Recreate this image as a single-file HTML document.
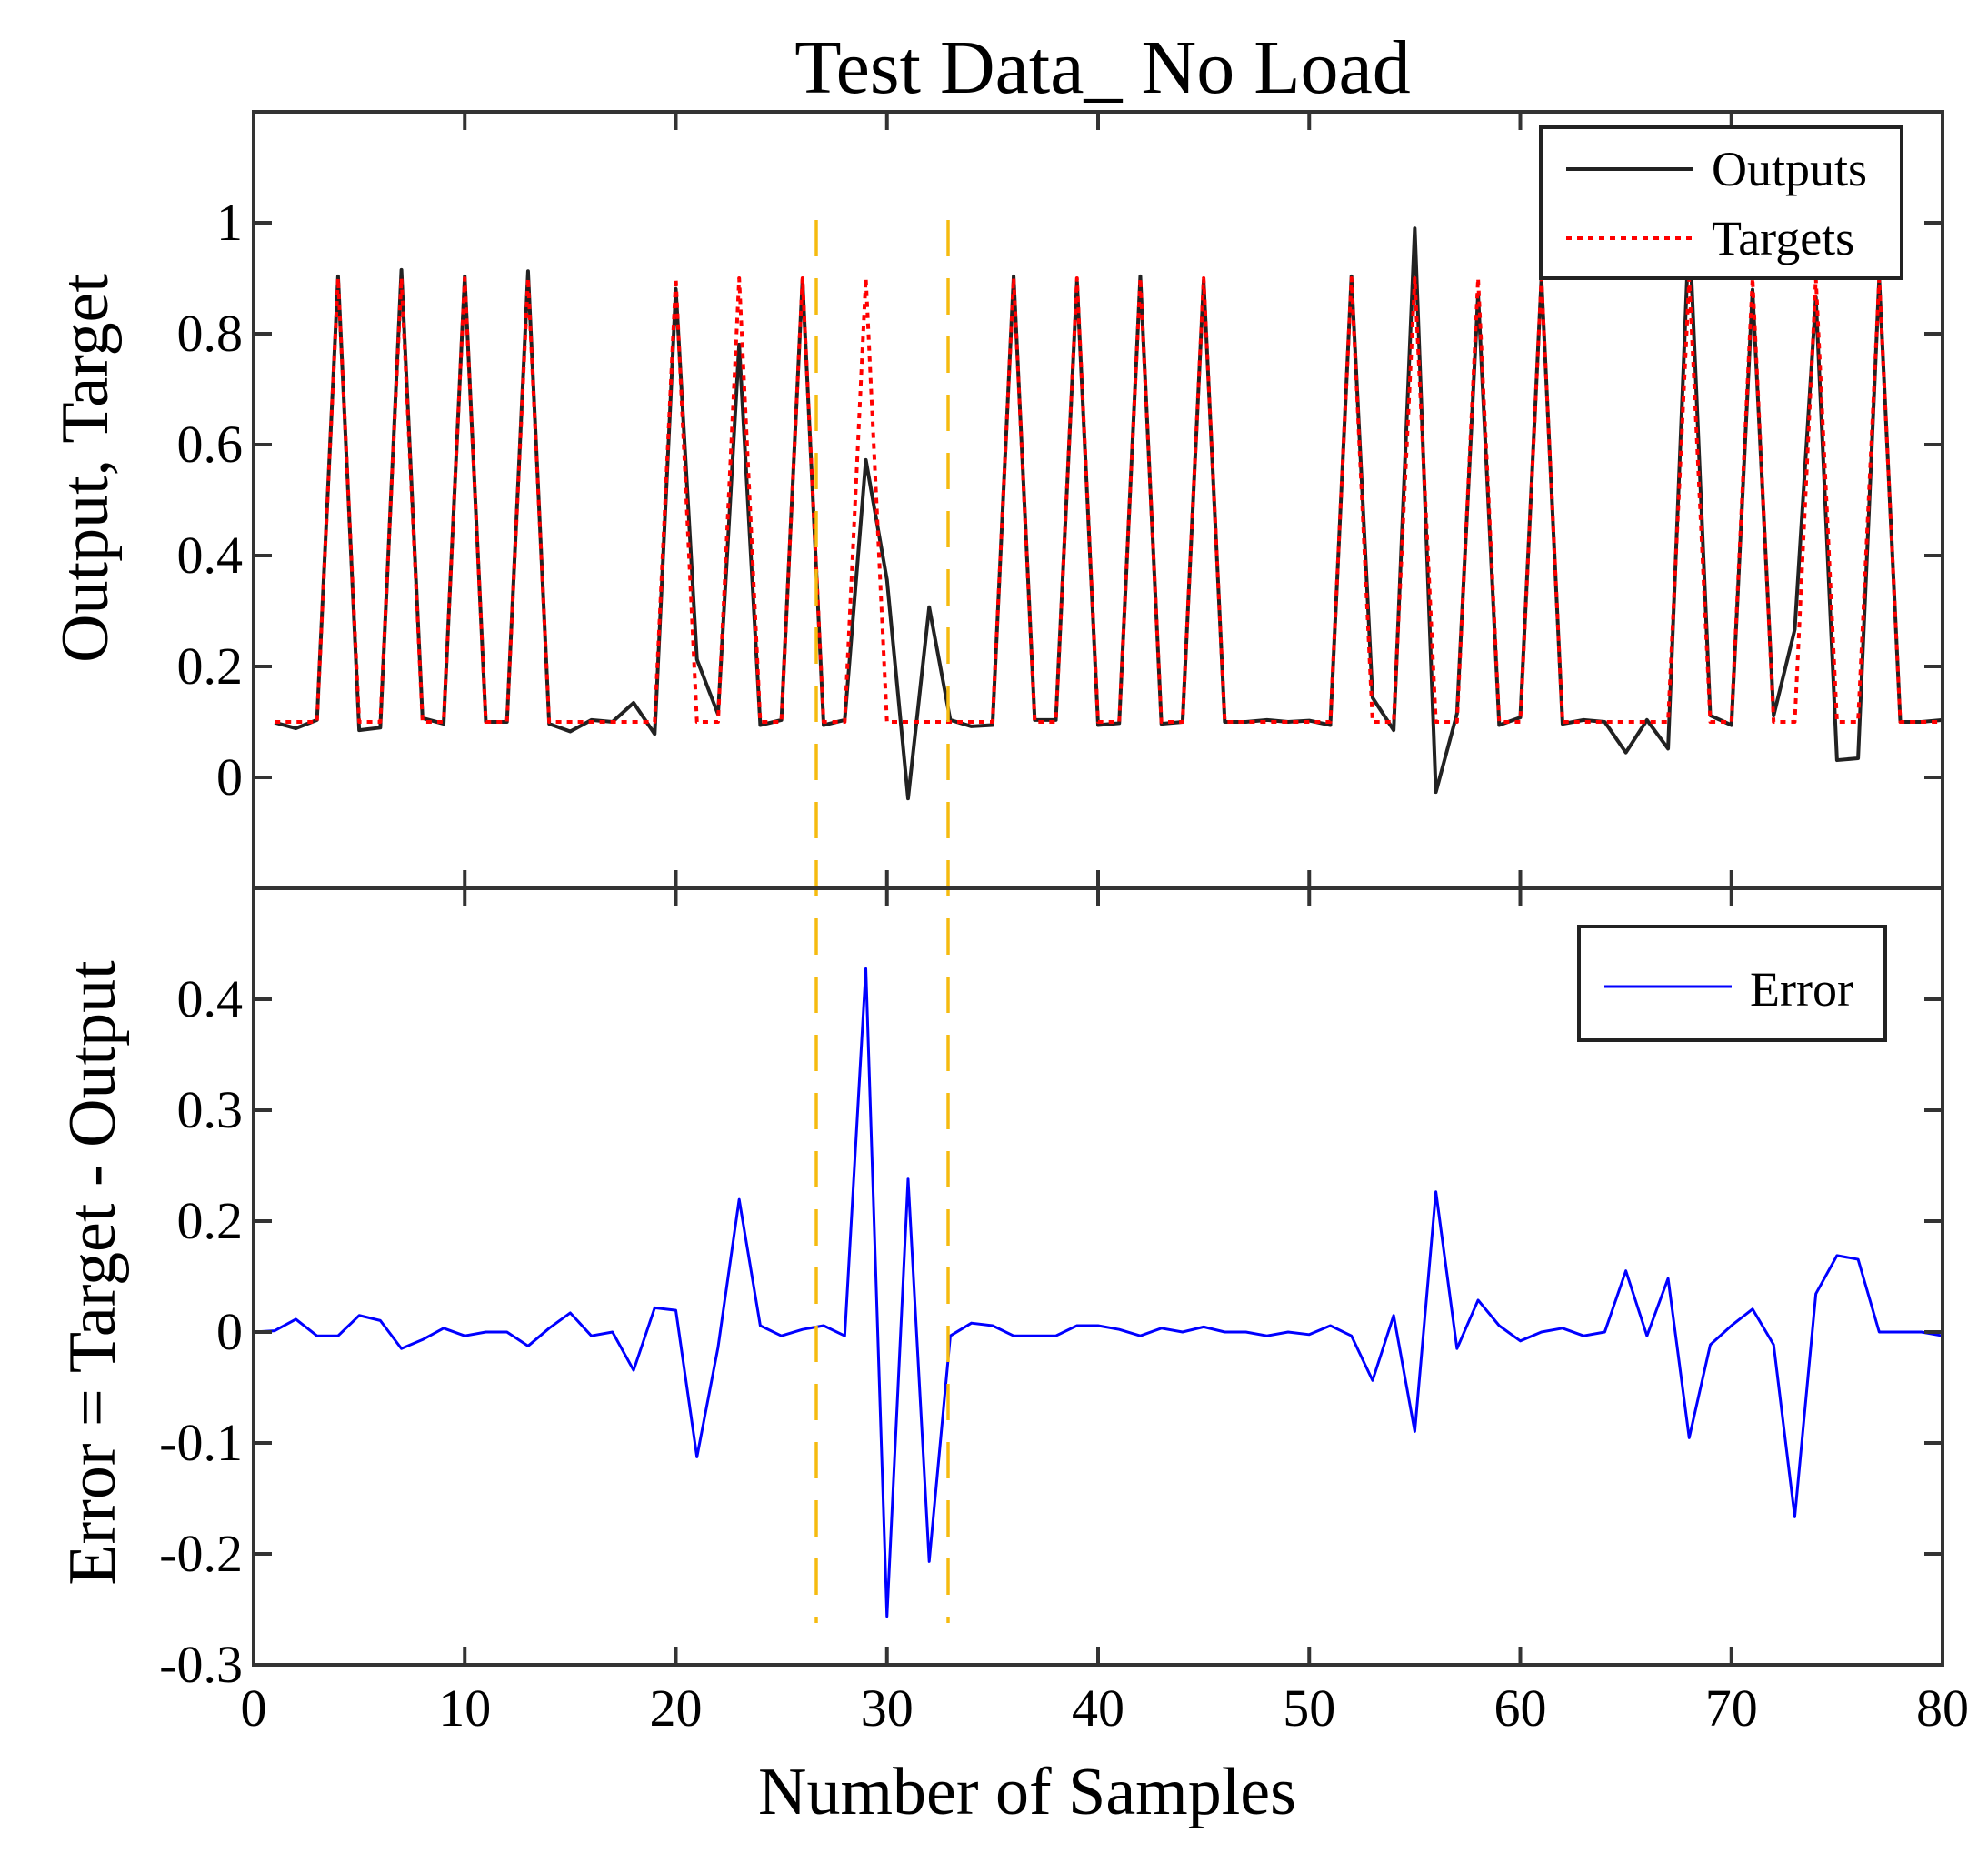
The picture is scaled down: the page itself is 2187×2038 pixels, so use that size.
<!DOCTYPE html>
<html><head><meta charset="utf-8"><style>
html,body{margin:0;padding:0;background:#fff;}
svg{display:block;font-family:"Liberation Serif",serif;}
</style></head><body>
<svg id="s" width="2187" height="2038" viewBox="0 0 2187 2038" xmlns="http://www.w3.org/2000/svg">
<rect width="2187" height="2038" fill="#fff"/>
<text x="1213" y="102" font-size="84" text-anchor="middle" fill="#000">Test Data_ No Load</text>
<g id="plots"></g>
<rect x="279" y="123" width="1858" height="854" fill="none" stroke="#333" stroke-width="4"/>
<rect x="279" y="977" width="1858" height="854" fill="none" stroke="#333" stroke-width="4"/>
<g id="ticks" stroke="#333" stroke-width="4"></g>
<g id="labels" font-size="58" fill="#000"></g>
<text transform="translate(118,515) rotate(-90)" font-size="74" text-anchor="middle" fill="#000">Output, Target</text>
<text transform="translate(126,1400) rotate(-90)" font-size="74" text-anchor="middle" fill="#000">Error = Target - Output</text>
<text x="1130" y="1995" font-size="74" text-anchor="middle" fill="#000">Number of Samples</text>
<rect x="1695" y="140" width="397" height="166" fill="#fff" stroke="#222" stroke-width="4"/>
<line x1="1723" y1="186" x2="1862" y2="186" stroke="#222" stroke-width="4"/>
<line x1="1723" y1="262" x2="1862" y2="262" stroke="#f00" stroke-width="4" stroke-dasharray="6,6"/>
<text x="1883" y="204" font-size="54" fill="#000">Outputs</text>
<text x="1883" y="280" font-size="54" fill="#000">Targets</text>
<rect x="1737" y="1019" width="337" height="125" fill="#fff" stroke="#222" stroke-width="4"/>
<line x1="1765" y1="1085" x2="1905" y2="1085" stroke="#00f" stroke-width="3"/>
<text x="1925" y="1106" font-size="54" fill="#000">Error</text>
</svg>
<script>
var NS="http://www.w3.org/2000/svg";
function X(x){return 279+x*23.225;}
function YU(v){return 855-v*610;}
function YL(e){return 1465-e*1220;}
var eimg={0:1050,1:1049,2:1040,3:1053,4:1053,5:1037,6:1041,7:1063,8:1056,9:1047,10:1053,11:1050,12:1050,13:1061,14:1047,15:1035,16:1053,17:1050,18:1080,19:1031,20:1033,21:1148,22:1062,23:946,24:1045,25:1053,26:1048,27:1045,28:1053,29:765,30:1273,31:930,32:1230,33:1053,34:1043,35:1045,36:1053,37:1053,38:1053,39:1045,40:1045,41:1048,42:1053,43:1047,44:1050,45:1046,46:1050,47:1050,48:1053,49:1050,50:1052,51:1045,52:1053,53:1088,54:1037,55:1128,56:940,57:1063,58:1025,59:1045,60:1057,61:1050,62:1047,63:1053,64:1050,65:1002,66:1053,67:1008,68:1133,69:1060,70:1045,71:1032,72:1060,73:1195,74:1020,75:990,76:993,77:1050,78:1050,79:1050,80:1053};
var peaks=[4,7,10,13,20,23,26,29,36,39,42,45,52,55,58,61,68,71,74,77];
function err(x){return (1050-eimg[x])/87*0.1;}
function tgt(x){return peaks.indexOf(x)>=0?0.9:0.1;}
var g=document.getElementById('plots');
function pl(pts,st,w,da){var p=document.createElementNS(NS,'polyline');p.setAttribute('points',pts.join(' '));p.setAttribute('fill','none');p.setAttribute('stroke',st);p.setAttribute('stroke-width',w);p.setAttribute('stroke-linejoin','round');if(da)p.setAttribute('stroke-dasharray',da);g.appendChild(p);}
var po=[],pt=[],pe=[];
for(var x=1;x<=80;x++){var t=tgt(x),e=err(x);po.push(X(x)+','+YU(t-e));pt.push(X(x)+','+YU(t));}
for(var x=0;x<=80;x++){pe.push(X(x)+','+YL(err(x)));}
pl(po,'#222',4);pl(pt,'#f00',4,'6,6');pl(pe,'#00f',3);
[898,1043].forEach(function(xx){var l=document.createElementNS(NS,'line');l.setAttribute('x1',xx);l.setAttribute('x2',xx);l.setAttribute('y1',242);l.setAttribute('y2',1785);l.setAttribute('stroke','#f5bb10');l.setAttribute('stroke-width',3.5);l.setAttribute('stroke-dasharray','40,24');g.appendChild(l);});
var tk=document.getElementById('ticks');
function ln(a,b,c,d){var l=document.createElementNS(NS,'line');l.setAttribute('x1',a);l.setAttribute('y1',b);l.setAttribute('x2',c);l.setAttribute('y2',d);tk.appendChild(l);}
for(var i=0;i<=8;i++){var xx=X(i*10);ln(xx,123,xx,143);ln(xx,977,xx,957);ln(xx,977,xx,997);ln(xx,1831,xx,1811);}
var lb=document.getElementById('labels');
function tx(s,x,y,a){var t=document.createElementNS(NS,'text');t.setAttribute('x',x);t.setAttribute('y',y);t.setAttribute('text-anchor',a);t.textContent=s;lb.appendChild(t);}
var ul=['1','0.8','0.6','0.4','0.2','0'];
for(var i=0;i<6;i++){var y=245+i*122;ln(279,y,299,y);ln(2137,y,2117,y);tx(ul[i],267,y+19,'end');}
var ll=['0.4','0.3','0.2','0','-0.1','-0.2','-0.3'];
for(var i=0;i<7;i++){var y=1099+i*122;ln(279,y,299,y);ln(2137,y,2117,y);tx(ll[i],267,y+19,'end');}
for(var i=0;i<=8;i++){tx(String(i*10),X(i*10),1898,'middle');}
</script>
</body></html>
